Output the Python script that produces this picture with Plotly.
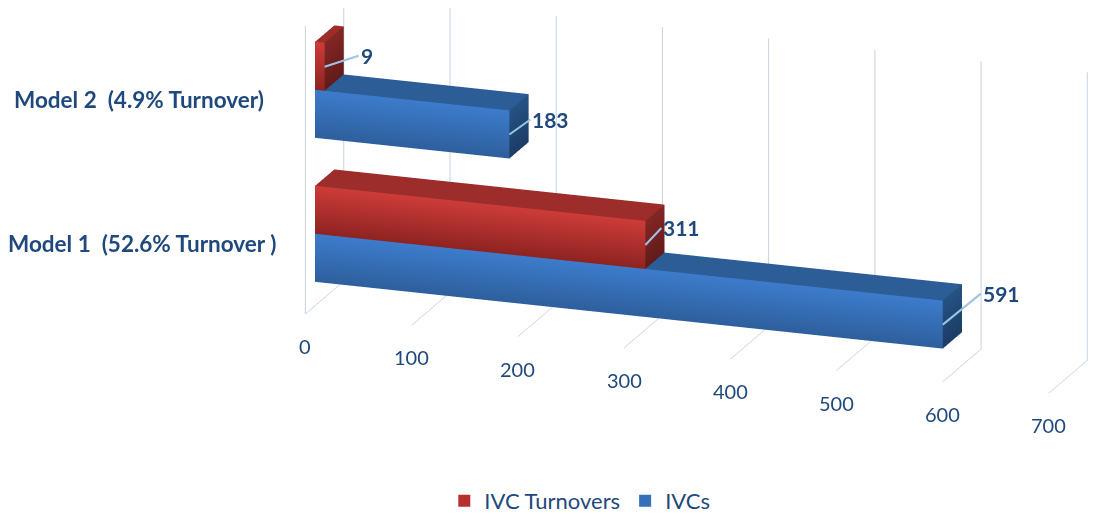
import plotly.graph_objects as go

categories = ["Model 1  (52.6% Turnover )", "Model 2  (4.9% Turnover)"]
ivc_turnovers = [311, 9]
ivcs = [591, 183]
value_ticks = [0, 100, 200, 300, 400, 500, 600, 700]

INK = "#1f497d"
GRID = "#c6d2e4"
LEADER = "#9dc3e6"
FONT = "Lato, Carlito, 'Open Sans', sans-serif"
RED = dict(front_top="#cd3c39", front_bot="#8e2321", top="#9c2d2a", side_top="#842725", side_bot="#611b19")
BLUE = dict(front_top="#3c7ccc", front_bot="#2e5f9d", top="#2c5d97", side_top="#265383", side_bot="#1b3c66")

Y0, Y1 = 0.25, 0.75  # bar depth inside the depth axis
BAR = 1 / 3          # bar thickness per category band
CATEGORY_XSHIFT = [-27, -39]
IVC_LABEL_OFFSET = [(38, -31), (21, -15)]
TURNOVER_LABEL_OFFSET = [(16, -17), (34, -11)]


def box(value, z0, z1, pal):
    faces = [
        ([(0, Y0, z0), (value, Y0, z0), (value, Y0, z1), (0, Y0, z1)],
         [pal["front_bot"], pal["front_bot"], pal["front_top"], pal["front_top"]]),
        ([(0, Y0, z1), (value, Y0, z1), (value, Y1, z1), (0, Y1, z1)], [pal["top"]] * 4),
        ([(value, Y0, z0), (value, Y1, z0), (value, Y1, z1), (value, Y0, z1)],
         [pal["side_bot"], pal["side_bot"], pal["side_top"], pal["side_top"]]),
    ]
    xs, ys, zs, cs, ii, jj, kk = [], [], [], [], [], [], []
    for pts, cols in faces:
        n = len(xs)
        for p, c in zip(pts, cols):
            xs.append(p[0]); ys.append(p[1]); zs.append(p[2]); cs.append(c)
        ii += [n, n]; jj += [n + 1, n + 2]; kk += [n + 2, n + 3]
    return go.Mesh3d(x=xs, y=ys, z=zs, i=ii, j=jj, k=kk, vertexcolor=cs, flatshading=True,
                     lighting=dict(ambient=1, diffuse=0, specular=0, fresnel=0, roughness=1),
                     hoverinfo="skip", showlegend=False)


fig = go.Figure()
for c in range(len(categories)):
    low = c + (1 - 2 * BAR) / 2
    fig.add_trace(box(ivcs[c], low, low + BAR, BLUE))
    fig.add_trace(box(ivc_turnovers[c], low + BAR, low + 2 * BAR, RED))

# front edge of the side wall
fig.add_trace(go.Scatter3d(x=[0, 0], y=[0, 0], z=[0, len(categories)], mode="lines",
                           line=dict(color=GRID, width=2), hoverinfo="skip", showlegend=False))

for name, col in (("IVC Turnovers", "#b5302e"), ("IVCs", "#3570b8")):
    fig.add_trace(go.Scatter3d(x=[None], y=[None], z=[None], mode="markers", name=name,
                               marker=dict(symbol="square", size=14, color=col)))

ann = []
for t in value_ticks:
    ann.append(dict(x=t, y=0, z=0, text=str(t), showarrow=False, yshift=-32,
                    font=dict(size=20, color=INK, family=FONT)))
for c, cat in enumerate(categories):
    ann.append(dict(x=0, y=0, z=c + 0.5, text="<b>%s</b>" % cat, showarrow=False, xanchor="right",
                    xshift=CATEGORY_XSHIFT[c], yshift=-2, font=dict(size=22.5, color=INK, family=FONT)))
    low = c + (1 - 2 * BAR) / 2
    for val, z, (ax, ay) in ((ivcs[c], low + BAR / 2, IVC_LABEL_OFFSET[c]),
                             (ivc_turnovers[c], low + 1.5 * BAR, TURNOVER_LABEL_OFFSET[c])):
        ann.append(dict(x=val, y=Y0, z=z, text="<b>%d</b>" % val, showarrow=True, arrowhead=0,
                        arrowwidth=2, arrowcolor=LEADER, ax=ax, ay=ay, standoff=0, xanchor="left",
                        font=dict(size=21, color=INK, family=FONT)))

axis_common = dict(showbackground=False, showline=False, zeroline=False, showspikes=False,
                   showticklabels=False, ticks="", title=dict(text=""))
fig.update_layout(
    width=1106, height=514, margin=dict(l=0, r=0, t=0, b=0),
    paper_bgcolor="white", font=dict(family=FONT, color=INK, size=19),
    legend=dict(orientation="h", x=0.517, xanchor="center", y=-0.004, yanchor="bottom",
                font=dict(size=22, color=INK, family=FONT), itemsizing="constant"),
    scene=dict(
        domain=dict(x=[0, 1], y=[0, 1]),
        aspectmode="manual", aspectratio=dict(x=3.08, y=0.45, z=1.18),
        camera=dict(projection=dict(type="orthographic"),
                    eye=dict(x=-0.468 + 0.9, y=-0.263 - 2.55, z=-0.261 + 0.855),
                    center=dict(x=-0.468, y=-0.263, z=-0.261), up=dict(x=0, y=0, z=1)),
        xaxis=dict(range=[0, 700], tickvals=value_ticks, showgrid=True, gridcolor=GRID, gridwidth=2, **axis_common),
        yaxis=dict(range=[0, 1], showgrid=False, **axis_common),
        zaxis=dict(range=[0, 2], showgrid=False, **axis_common),
        annotations=ann,
    ),
)
fig.write_html("out.html", config=dict(displayModeBar=False))
